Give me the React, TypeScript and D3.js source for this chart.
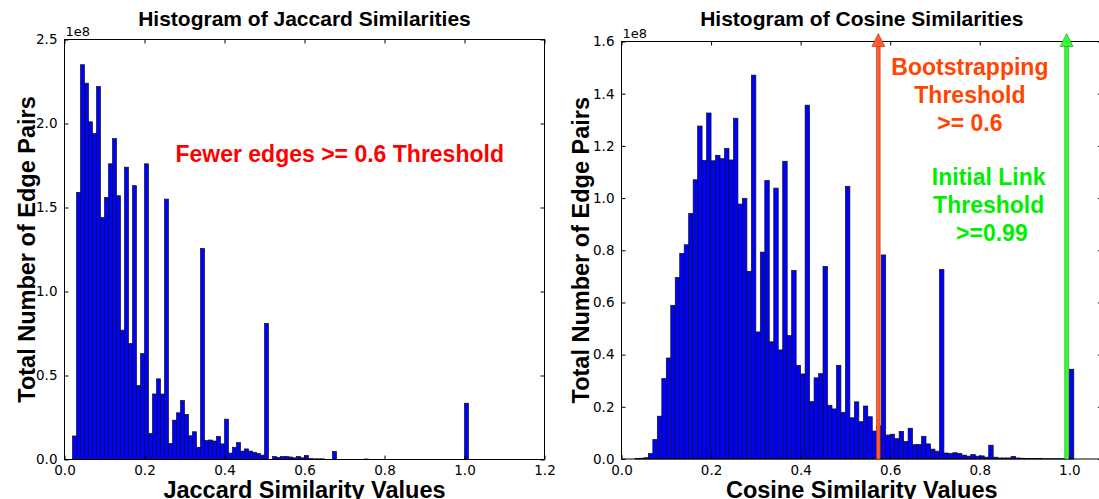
import React, { useEffect, useRef } from "react";
import * as d3 from "d3";

// histogram bins are 0.01 wide, starting at 0.00 ; counts are in units of 1e8
const binWidth = 0.01;

const jaccardCounts = [
  0, 0, 0.14, 1.59, 2.35, 2.24, 2.01, 1.94, 2.22, 1.44,
  1.56, 1.76, 1.91, 1.57, 0.77, 1.74, 0.69, 1.63, 0.44, 0.63,
  1.76, 0.155, 0.39, 0.48, 0.39, 1.55, 0.095, 0.234, 0.278, 0.351,
  0.268, 0.141, 0.165, 0.073, 1.256, 0.113, 0.116, 0.11, 0.137, 0.093,
  0.24, 0.038, 0.073, 0.101, 0.05, 0.063, 0.05, 0.043, 0.036, 0.026,
  0.81, 0, 0.018, 0.012, 0.018, 0.018, 0.015, 0.01, 0.018, 0.01,
  0.024, 0.006, 0.004, 0.004, 0.004, 0, 0, 0.048, 0, 0,
  0, 0, 0, 0, 0, 0.003, 0, 0, 0, 0,
  0, 0, 0, 0, 0, 0, 0, 0, 0, 0,
  0, 0, 0, 0, 0, 0, 0, 0, 0, 0,
  0.335,
];

const cosineCounts = [
  0, 0, 0, 0.002, 0.003, 0.005, 0.021, 0.075, 0.164, 0.308,
  0.387, 0.589, 0.696, 0.788, 0.821, 0.941, 1.07, 1.276, 1.144, 1.326,
  1.143, 1.164, 1.151, 1.19, 1.146, 1.306, 0.977, 0.999, 0.719, 1.471,
  0.487, 0.793, 1.067, 0.449, 1.038, 0.418, 1.141, 0.473, 0.723, 0.359,
  0.326, 1.356, 0.22, 0.311, 0.327, 0.738, 0.206, 0.192, 0.359, 0.179,
  1.045, 0.158, 0.219, 0.143, 0.203, 0.162, 0.107, 0.127, 0.782, 0.092,
  0.095, 0.078, 0.106, 0.067, 0.118, 0.055, 0.056, 0.087, 0.058, 0.038,
  0.03, 0.726, 0.023, 0.021, 0.024, 0.021, 0.015, 0.011, 0.017, 0.011,
  0.012, 0.007, 0.053, 0.007, 0.004, 0.004, 0.004, 0.01, 0.004, 0.003,
  0.002, 0.002, 0.002, 0.002, 0.001, 0.001, 0.001, 0.001, 0.001, 0.001,
  0.344,
];

const jaccardXTicks = [0, 0.2, 0.4, 0.6, 0.8, 1.0, 1.2];
const jaccardYTicks = [0, 0.5, 1.0, 1.5, 2.0, 2.5];
const cosineXTicks = [0, 0.2, 0.4, 0.6, 0.8, 1.0];
const cosineYTicks = [0, 0.2, 0.4, 0.6, 0.8, 1.0, 1.2, 1.4, 1.6];

// thresholds drawn as arrows on the cosine plot
const bootstrapLine = 0.5735;
const initialLinkLine = 0.994;

const tickFont = "'DejaVu Sans', sans-serif";
const boldFont = "'Liberation Sans', Arial, sans-serif";

function drawHist(svg, o) {
  const g = svg.append("g");
  const x = d3.scaleLinear().domain([0, o.xMax]).range([o.left, o.right]);
  const y = d3.scaleLinear().domain([0, o.yMax]).range([o.bottom, o.top]);

  const bins = o.counts
    .map((v, i) => ({ x0: i * binWidth, v }))
    .filter((d) => d.v > 0);

  g.selectAll("rect.bar")
    .data(bins)
    .enter()
    .append("rect")
    .attr("class", "bar")
    .attr("x", (d) => x(d.x0))
    .attr("width", (d) => x(d.x0 + binWidth) - x(d.x0))
    .attr("y", (d) => y(d.v))
    .attr("height", (d) => y(0) - y(d.v))
    .attr("fill", "#0000ff")
    .attr("stroke", "#111")
    .attr("stroke-width", 0.7);

  // frame
  g.append("rect")
    .attr("x", o.left)
    .attr("y", o.top)
    .attr("width", o.right - o.left)
    .attr("height", o.bottom - o.top)
    .attr("fill", "none")
    .attr("stroke", "#000")
    .attr("stroke-width", 1);

  const fmt = d3.format(".1f");

  const styleAxis = (sel) => {
    sel.select(".domain").remove();
    sel.attr("font-family", tickFont).attr("font-size", 13.5);
    sel.selectAll("text").attr("fill", "#000");
    sel.selectAll("line").attr("stroke", "#000");
  };

  g.append("g")
    .attr("transform", `translate(0,${o.bottom})`)
    .call(d3.axisBottom(x).tickValues(o.xTicks).tickSize(-4).tickPadding(6).tickFormat(fmt))
    .call(styleAxis);
  g.append("g")
    .attr("transform", `translate(0,${o.top})`)
    .call(d3.axisTop(x).tickValues(o.xTicks).tickSize(-4).tickFormat(() => ""))
    .call(styleAxis);
  g.append("g")
    .attr("transform", `translate(${o.left},0)`)
    .call(d3.axisLeft(y).tickValues(o.yTicks).tickSize(-4).tickPadding(7).tickFormat(fmt))
    .call(styleAxis);
  g.append("g")
    .attr("transform", `translate(${o.right},0)`)
    .call(d3.axisRight(y).tickValues(o.yTicks).tickSize(-4).tickFormat(() => ""))
    .call(styleAxis);

  g.append("text")
    .attr("x", o.left + 1)
    .attr("y", o.top - 4)
    .attr("font-family", tickFont)
    .attr("font-size", 13)
    .text("1e8");

  g.append("text")
    .attr("x", (o.left + o.right) / 2)
    .attr("y", 26)
    .attr("text-anchor", "middle")
    .attr("font-family", boldFont)
    .attr("font-weight", "bold")
    .attr("font-size", 21)
    .text(o.title);

  g.append("text")
    .attr("x", (o.left + o.right) / 2)
    .attr("y", 498)
    .attr("text-anchor", "middle")
    .attr("font-family", boldFont)
    .attr("font-weight", "bold")
    .attr("font-size", 23.5)
    .text(o.xLabel);

  g.append("text")
    .attr("transform", `translate(${o.yLabelX},${(o.top + o.bottom) / 2}) rotate(-90)`)
    .attr("text-anchor", "middle")
    .attr("font-family", boldFont)
    .attr("font-weight", "bold")
    .attr("font-size", 23.5)
    .text("Total Number of Edge Pairs");

  return { g, x, y };
}

function arrow(g, x, y, v, fill, edge) {
  const cx = x(v);
  const base = y.range()[1] + 5;
  g.append("rect")
    .attr("x", cx - 1.8)
    .attr("y", base)
    .attr("width", 3.6)
    .attr("height", y(0) - base)
    .attr("fill", fill)
    .attr("stroke", edge)
    .attr("stroke-width", 0.6);
  g.append("path")
    .attr("d", `M${cx - 6.5},${base} L${cx + 6.5},${base} L${cx},${base - 13} Z`)
    .attr("fill", fill)
    .attr("stroke", edge)
    .attr("stroke-width", 0.6);
}

function label(g, x, y, lines, cx, baseline, color, size) {
  const t = g
    .append("text")
    .attr("text-anchor", "middle")
    .attr("font-family", boldFont)
    .attr("font-weight", "bold")
    .attr("font-size", size)
    .attr("fill", color);
  lines.forEach((s, i) => {
    t.append("tspan")
      .attr("x", x(cx))
      .attr("y", y(baseline) + i * 28)
      .text(s);
  });
}

export default function App() {
  const ref = useRef(null);

  useEffect(() => {
    const svg = d3.select(ref.current);
    svg.selectAll("*").remove();

    const left = drawHist(svg, {
      left: 64.5,
      right: 544.5,
      top: 39.5,
      bottom: 459.5,
      xMax: 1.2,
      yMax: 2.5,
      counts: jaccardCounts,
      xTicks: jaccardXTicks,
      yTicks: jaccardYTicks,
      title: "Histogram of Jaccard Similarities",
      xLabel: "Jaccard Similarity Values",
      yLabelX: 35,
    });
    label(left.g, left.x, left.y, ["Fewer edges >= 0.6 Threshold"], 0.688, 1.77, "#ff0000", 23);

    const right = drawHist(svg, {
      left: 621.5,
      right: 1102,
      top: 41.5,
      bottom: 459,
      xMax: 1.073,
      yMax: 1.6,
      counts: cosineCounts,
      xTicks: cosineXTicks,
      yTicks: cosineYTicks,
      title: "Histogram of Cosine Similarities",
      xLabel: "Cosine Similarity Values",
      yLabelX: 589,
    });
    arrow(right.g, right.x, right.y, bootstrapLine, "#ff5a30", "#b83010");
    arrow(right.g, right.x, right.y, initialLinkLine, "#33ff33", "#1a991a");
    label(right.g, right.x, right.y, ["Bootstrapping", "Threshold", ">= 0.6"], 0.778, 1.47, "#ff4500", 23);
    label(right.g, right.x, right.y, ["Initial Link", "Threshold", "  >=0.99"], 0.82, 1.05, "#00ee00", 23);
  }, []);

  return (
    <svg
      ref={ref}
      width={1099}
      height={499}
      style={{ position: "absolute", left: 0, top: 0, background: "#fff" }}
    />
  );
}
